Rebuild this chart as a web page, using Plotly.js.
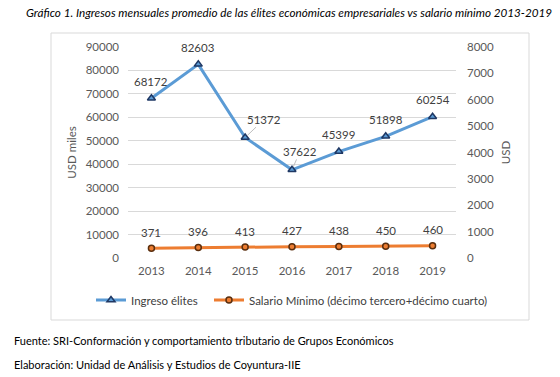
<!DOCTYPE html>
<html>
<head>
<meta charset="utf-8">
<script src="https://cdn.plot.ly/plotly-3.0.1.min.js"></script>
<style>html,body{margin:0;padding:0;background:#fff;}#chart{width:560px;height:377px;}</style>
</head>
<body>
<div id="chart"></div>
<script>
const years = ['2013','2014','2015','2016','2017','2018','2019'];
const ingresoElites = [68172, 82603, 51372, 37622, 45399, 51898, 60254];
const salarioMinimo = [371, 396, 413, 427, 438, 450, 460];
const seriesNames = ['Ingreso élites', 'Salario Mínimo (décimo tercero+décimo cuarto)'];
const leftTicks = [0,10000,20000,30000,40000,50000,60000,70000,80000,90000];
const rightTicks = [0,1000,2000,3000,4000,5000,6000,7000,8000];
const titleText = 'Gráfico 1. Ingresos mensuales promedio de las élites económicas empresariales vs salario mínimo 2013-2019';
const leftAxisTitle = 'USD miles';
const rightAxisTitle = 'USD';
const footer1 = 'Fuente: SRI-Conformación y comportamiento tributario de Grupos Económicos';
const footer2 = 'Elaboración: Unidad de Análisis y Estudios de Coyuntura-IIE';

// label styling offsets (pixels) for the blue series: [dx, dy, leaderLine]
const blueLabelOffsets = [[0,17,false],[0,17,false],[12,16,true],[5,16,true],[0,17,false],[0,17,false],[0,17,false]];

const W = 560, H = 377;
const L = 128, R = 104, T = 47, B = 119;
const pw = W - L - R, ph = H - T - B;
const px = x => (x - L) / pw;
const py = y => (H - B - y) / ph;

const FONT = 'Lato, "Open Sans", sans-serif';
const labelColor = '#404040';

const traces = [
  {
    x: years, y: ingresoElites, name: seriesNames[0], type: 'scatter', mode: 'lines+markers',
    line: {color: '#5B9BD5', width: 3},
    marker: {symbol: 'triangle-up', size: 7, color: '#5B9BD5', line: {color: '#1F3864', width: 1.5}},
    yaxis: 'y', cliponaxis: false, legend: 'legend'
  },
  {
    x: years, y: salarioMinimo, name: seriesNames[1], type: 'scatter', mode: 'lines+markers',
    line: {color: '#ED7D31', width: 3},
    marker: {symbol: 'circle', size: 6, color: '#ED7D31', line: {color: '#5a2e0e', width: 1.5}},
    yaxis: 'y2', cliponaxis: false, legend: 'legend2'
  }
];

const annotations = [];
years.forEach((yr, i) => {
  const o = blueLabelOffsets[i];
  if (o[2]) {
    annotations.push({x: i, y: ingresoElites[i], xref: 'x', yref: 'y', text: String(ingresoElites[i]),
      showarrow: true, ax: o[0]*1.6, ay: -o[1]*1.15, arrowhead: 0, arrowwidth: 1, arrowcolor: '#bfbfbf', standoff: 3,
      font: {family: FONT, size: 11.5, color: labelColor}});
  } else {
    annotations.push({x: i, y: ingresoElites[i], xref: 'x', yref: 'y', text: String(ingresoElites[i]),
      showarrow: false, xshift: o[0], yshift: o[1], yanchor: 'middle',
      font: {family: FONT, size: 11.5, color: labelColor}});
  }
  annotations.push({x: i, y: salarioMinimo[i], xref: 'x', yref: 'y2', text: String(salarioMinimo[i]),
    showarrow: false, yshift: 16, yanchor: 'middle',
    font: {family: FONT, size: 11.5, color: labelColor}});
});
annotations.push({xref: 'paper', yref: 'paper', x: px(12), y: py(340), xanchor: 'left', yanchor: 'middle',
  text: footer1, showarrow: false, font: {family: FONT, size: 11, color: '#000'}});
annotations.push({xref: 'paper', yref: 'paper', x: px(12), y: py(364), xanchor: 'left', yanchor: 'middle',
  text: footer2, showarrow: false, font: {family: FONT, size: 11, color: '#000'}});

const legendBase = {orientation: 'h', yanchor: 'middle', xanchor: 'left', y: py(300),
  font: {family: FONT, size: 11.5, color: '#404040'}, bgcolor: 'rgba(0,0,0,0)', itemwidth: 30};

const layout = {
  width: W, height: H,
  margin: {l: L, r: R, t: T, b: B, pad: 0},
  paper_bgcolor: '#fff', plot_bgcolor: '#fff',
  font: {family: FONT, size: 11.5, color: '#595959'},
  title: {text: titleText, xref: 'container', yref: 'container', x: 289/560, y: 1 - 13/377,
    xanchor: 'center', yanchor: 'middle', font: {family: FONT, size: 11.7, color: '#000', style: 'italic'}},
  showlegend: true,
  legend: Object.assign({}, legendBase, {x: px(91)}),
  legend2: Object.assign({}, legendBase, {x: px(209)}),
  xaxis: {type: 'category', range: [-0.5, 6.5], showgrid: false, zeroline: false, showline: false,
    ticks: '', tickfont: {family: FONT, size: 11.5, color: '#595959'}, ticklabelstandoff: 4, fixedrange: true},
  yaxis: {range: [0, 90000], tickvals: leftTicks, ticktext: leftTicks.map(String), showgrid: true, gridcolor: '#d9d9d9', gridwidth: 1,
    zeroline: false, showline: false, ticks: '', ticklabelstandoff: 8,
    title: {text: leftAxisTitle, standoff: 6, font: {family: FONT, size: 11.5, color: '#595959'}}},
  yaxis2: {range: [0, 8000], tickvals: rightTicks, ticktext: rightTicks.map(String), overlaying: 'y', side: 'right', showgrid: false,
    zeroline: false, showline: false, ticks: '', ticklabelstandoff: 10,
    title: {text: rightAxisTitle, standoff: 8, font: {family: FONT, size: 11.5, color: '#595959'}}},
  shapes: [
    {type: 'rect', xref: 'paper', yref: 'paper', x0: px(51), x1: px(529), y0: py(320), y1: py(33),
      line: {color: '#d9d9d9', width: 1}, fillcolor: 'rgba(0,0,0,0)', layer: 'below'}
  ],
  annotations: annotations
};

Plotly.newPlot('chart', traces, layout, {displayModeBar: false, staticPlot: true});
</script>
</body>
</html>
